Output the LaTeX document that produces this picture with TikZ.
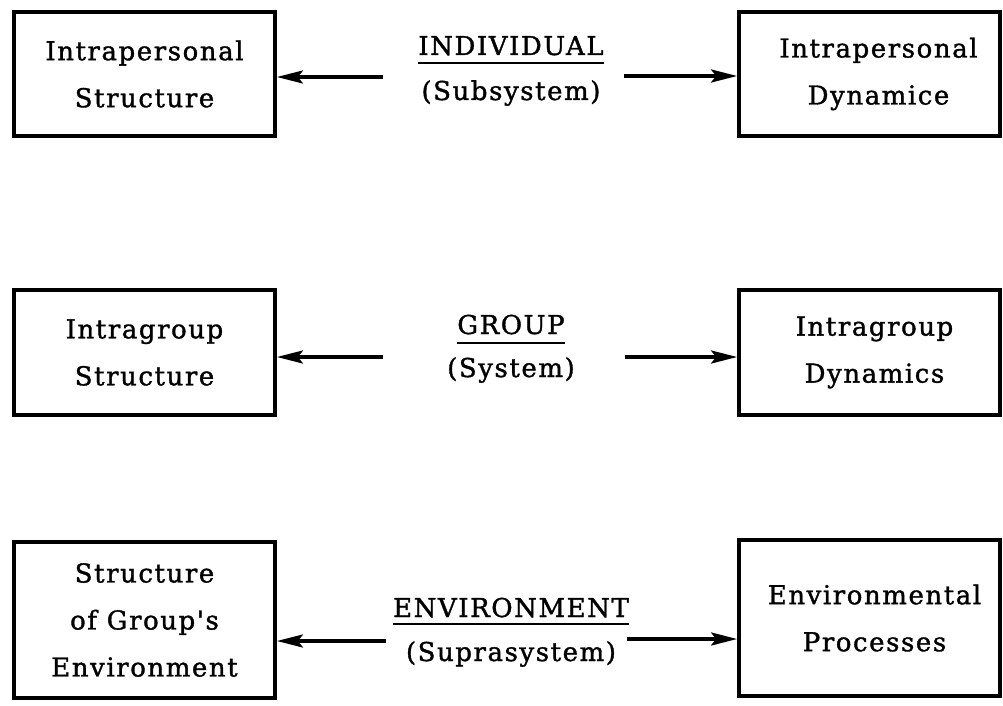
\documentclass[tikz,border=0pt]{standalone}
\usepackage{fontspec}
\newfontfamily\dfont[LetterSpace=6,FakeBold=1.3]{DejaVu Serif}
\usetikzlibrary{arrows.meta,calc}
\begin{document}
\begin{tikzpicture}[x=1pt,y=-1pt,
 box/.style={draw,line width=3.8pt,inner sep=0pt,align=center,font=\dfont\fontsize{26}{47}\selectfont},
 lbl/.style={inner sep=0pt,anchor=base,font=\dfont\fontsize{26}{30}\selectfont},
 arr/.style={line width=3.4pt,-{Stealth[length=26pt,width=13pt,inset=5pt]}},
 ul/.style={line width=2.6pt}]
\fill[white] (0,0) rectangle (1003,706);
\useasboundingbox (0,0) rectangle (1003,706);
% boxes
\node[box,minimum width=261pt,minimum height=124pt] (L1) at (144.5,74) {Intrapersonal\\Structure};
\node[box,minimum width=261pt,minimum height=124pt] (R1) at (869.5,74) {\hspace*{18pt}Intrapersonal\\\hspace*{18pt}Dynamice};
\node[box,minimum width=261pt,minimum height=125pt] (L2) at (144.5,352.5) {Intragroup\\Structure};
\node[box,minimum width=261pt,minimum height=125pt] (R2) at (869.5,352.5) {\hspace*{10pt}Intragroup\\\hspace*{10pt}Dynamics};
\node[box,minimum width=261pt,minimum height=156pt] (L3) at (144.5,620) {Structure\\of Group's\\Environment};
\node[box,minimum width=261pt,minimum height=156pt] (R3) at (869.5,618) {\hspace*{10pt}Environmental\\\hspace*{10pt}Processes};
% centre labels
\node[lbl] (T1) at (511,55) {INDIVIDUAL};
\node[lbl] (S1) at (511,100) {(Subsystem)};
\node[lbl] (T2) at (511,334) {GROUP};
\node[lbl] (S2) at (511,377) {(System)};
\node[lbl] (T3) at (511,617) {ENVIRONMENT};
\node[lbl] (S3) at (511,661) {(Suprasystem)};
\draw[ul] ($(T1.base west)+(0,8)$) -- ($(T1.base east)+(0,8)$);
\draw[ul] ($(T2.base west)+(0,9)$) -- ($(T2.base east)+(0,9)$);
\draw[ul] ($(T3.base west)+(0,7)$) -- ($(T3.base east)+(0,7)$);
% arrow start points
\coordinate (a1) at (383,77);
\coordinate (b1) at (624,76);
\coordinate (a2) at (383,357);
\coordinate (b2) at (625,357);
\coordinate (a3) at (386,641);
\coordinate (b3) at (627,639);
\draw[arr] (a1) -- (L1.east |- a1);
\draw[arr] (b1) -- (R1.west |- b1);
\draw[arr] (a2) -- (L2.east |- a2);
\draw[arr] (b2) -- (R2.west |- b2);
\draw[arr] (a3) -- (L3.east |- a3);
\draw[arr] (b3) -- (R3.west |- b3);
\end{tikzpicture}
\end{document}
